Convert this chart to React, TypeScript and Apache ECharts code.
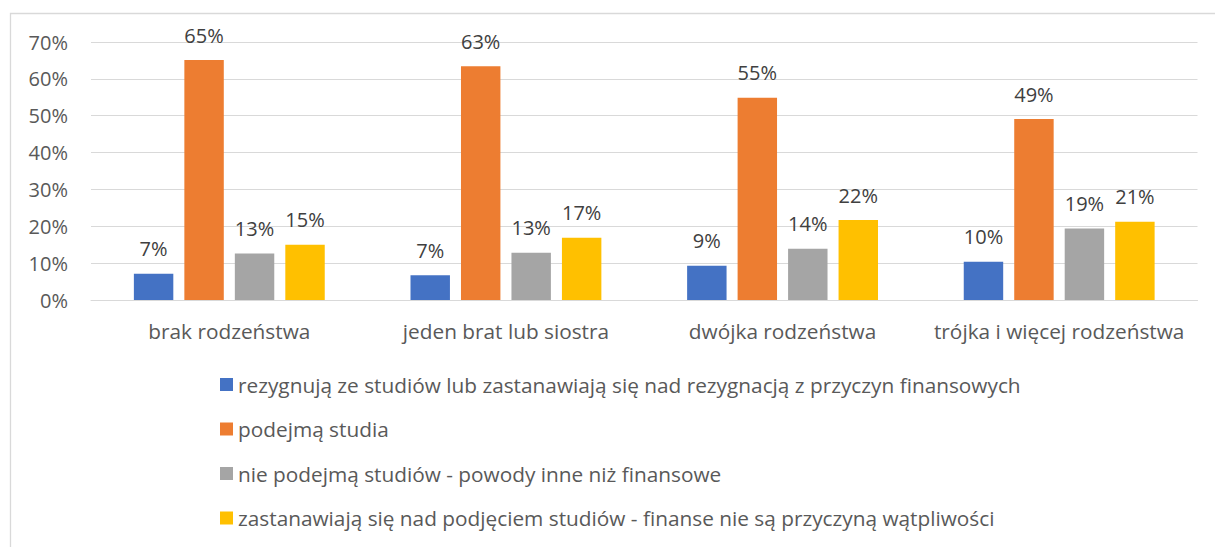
import React, { useEffect, useRef } from "react";
import * as echarts from "echarts";

const categories = [
  "brak rodzeństwa",
  "jeden brat lub siostra",
  "dwójka rodzeństwa",
  "trójka i więcej rodzeństwa",
];

const seriesNames = [
  "rezygnują ze studiów lub zastanawiają się nad rezygnacją z przyczyn finansowych",
  "podejmą studia",
  "nie podejmą studiów - powody inne niż finansowe",
  "zastanawiają się nad podjęciem studiów - finanse nie są przyczyną wątpliwości",
];

const resign = [7.1, 6.7, 9.3, 10.4];
const willStudy = [65.1, 63.4, 54.9, 49.1];
const notStudyOther = [12.6, 12.8, 13.9, 19.4];
const consider = [15.0, 16.9, 21.7, 21.2];

const colors = ["#4472C4", "#ED7D31", "#A5A5A5", "#FFC000"];
const yTicks = [0, 10, 20, 30, 40, 50, 60, 70];

const FONT = "Open Sans";
const FS_NUM = 20;
const FS_TEXT = 20.8;

export default function App() {
  const ref = useRef<HTMLDivElement>(null);
  useEffect(() => {
    if (!ref.current) return;
    const chart = echarts.init(ref.current, undefined, { renderer: "svg" });
    const data = [resign, willStudy, notStudyOther, consider];
    chart.setOption({
      animation: false,
      backgroundColor: "#ffffff",
      graphic: [
        {
          type: "rect",
          shape: { x: 10.5, y: 13.5, width: 1400, height: 800 },
          style: { fill: "none", stroke: "#d9d9d9", lineWidth: 1.3 },
          silent: true,
        },
      ],
      grid: { left: 91, right: 17.5, top: 42, bottom: 247, containLabel: false },
      xAxis: {
        type: "category",
        data: categories,
        axisTick: { show: false },
        axisLine: { show: true, lineStyle: { color: "#d9d9d9", width: 1 } },
        axisLabel: {
          color: "#595959",
          fontFamily: FONT,
          fontSize: FS_TEXT,
          lineHeight: 20,
          margin: 21,
          interval: 0,
        },
      },
      yAxis: {
        type: "value",
        min: yTicks[0],
        max: yTicks[yTicks.length - 1],
        interval: 10,
        axisLine: { show: false },
        axisTick: { show: false },
        splitLine: { lineStyle: { color: "#d9d9d9", width: 1 } },
        axisLabel: {
          color: "#595959",
          fontFamily: FONT,
          fontSize: FS_NUM,
          margin: 23,
          formatter: "{value}%",
        },
      },
      legend: {
        orient: "vertical",
        left: 220,
        top: 374,
        padding: 0,
        itemWidth: 13,
        itemHeight: 13,
        itemGap: 23.5,
        icon: "rect",
        data: seriesNames,
        textStyle: {
          color: "#595959",
          fontFamily: FONT,
          fontSize: FS_TEXT,
          lineHeight: 20,
        },
      },
      series: seriesNames.map((name, i) => ({
        name,
        type: "bar",
        data: data[i],
        barGap: "28%",
        barCategoryGap: "31%",
        itemStyle: { color: colors[i] },
        label: {
          show: true,
          position: "top",
          distance: 15,
          color: "#404040",
          fontFamily: FONT,
          fontSize: FS_NUM,
          lineHeight: 20,
          formatter: (p: any) => Math.round(p.value) + "%",
        },
      })),
    });
    return () => chart.dispose();
  }, []);
  return (
    <div
      ref={ref}
      style={{ position: "absolute", left: 0, top: 0, width: 1215, height: 547 }}
    />
  );
}
